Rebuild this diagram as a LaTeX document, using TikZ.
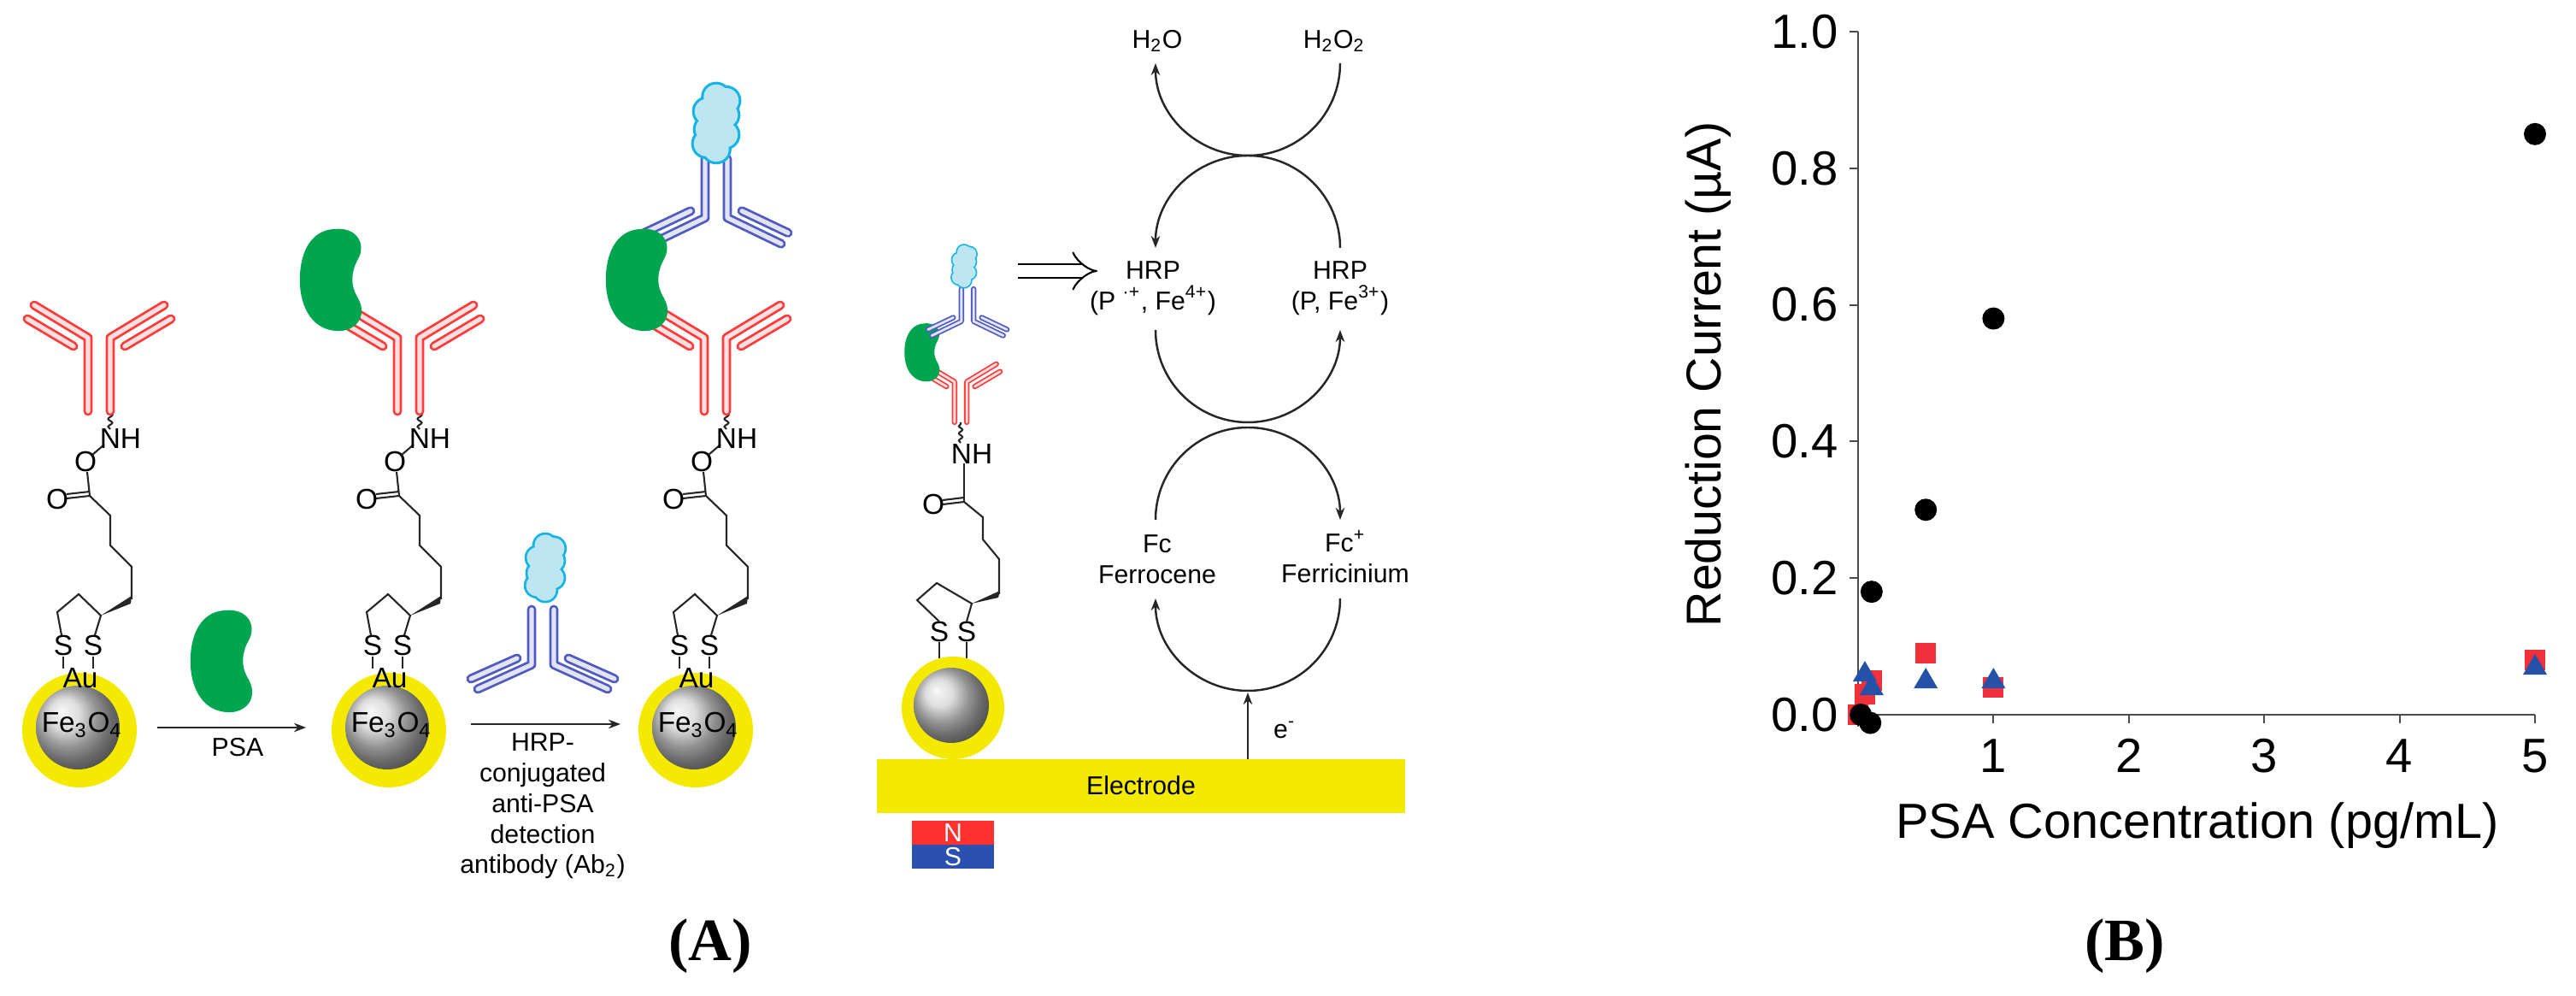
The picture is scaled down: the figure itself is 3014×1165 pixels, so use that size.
\documentclass[tikz,border=0pt]{standalone}
\usepackage{fontspec}
\setmainfont{Liberation Sans}
\newfontfamily\serifb{Liberation Serif}
\usetikzlibrary{arrows.meta,decorations.pathmorphing}
\definecolor{gold}{HTML}{F4EA00}
\definecolor{abred}{HTML}{FF3B3B}
\definecolor{abredl}{HTML}{FFE0E0}
\definecolor{abblue}{HTML}{4F5BC0}
\definecolor{abbluel}{HTML}{E2E4F6}
\definecolor{psa}{HTML}{00A64F}
\definecolor{cloudo}{HTML}{14B4E4}
\definecolor{cloudf}{HTML}{BEE6F2}
\definecolor{mred}{HTML}{F0303A}
\definecolor{mblue}{HTML}{2352A8}
\definecolor{nred}{HTML}{FF3030}
\definecolor{sblue}{HTML}{2A50B0}
\tikzset{
  tubeo/.style={line width=3.1pt,line cap=round,line join=round},
  tubei/.style={line width=1.5pt,line cap=round,line join=round},
  bond/.style={line width=0.6pt,black!85},
  lbl/.style={font=\fontsize{8.6}{10.2}\selectfont,inner sep=0pt},
  chem/.style={font=\fontsize{9.5}{10}\selectfont,inner sep=0pt},
  cyc/.style={line width=0.7pt,black!85},
  tip/.style={-{Stealth[length=4pt,width=3pt]}},
  tick/.style={font=\fontsize{16}{18}\selectfont,inner sep=0pt},
  axl/.style={line width=0.6pt,black!70},
}
\newcommand\antibody[3]{%
\begin{scope}[#1]
 \foreach \s in {1,-1}{
  \draw[tubeo,#2] (13*\s,0) -- (13*\s,-86) -- (76*\s,-124);
  \draw[tubeo,#2] (30*\s,-76) -- (84*\s,-108);}
 \foreach \s in {1,-1}{
  \draw[tubei,#3] (13*\s,0) -- (13*\s,-86) -- (76*\s,-124);
  \draw[tubei,#3] (30*\s,-76) -- (84*\s,-108);}
\end{scope}}
\newcommand\bean[1]{%
\fill[psa,#1] (2,-59) .. controls (28,-62) and (40,-42) .. (30,-24) .. controls (22,-10) and (20,6) .. (30,22) .. controls (42,44) and (26,62) .. (4,60) .. controls (-26,58) and (-40,28) .. (-38,-6) .. controls (-36,-40) and (-20,-58) .. (2,-59) -- cycle;}
\newcommand\cloud[1]{%
\begin{scope}[#1]
 \foreach \p in {(0,-30),(-10,-14),(10,-10),(-9,6),(10,12),(0,28),(-11,22),(11,-26)}
   \fill[cloudo] \p circle (17);
 \foreach \p in {(0,-30),(-10,-14),(10,-10),(-9,6),(10,12),(0,28),(-11,22),(11,-26)}
   \fill[cloudf] \p circle (14);
\end{scope}}
\newcommand\particle[2]{%
\begin{scope}[shift={#1}]
 \fill[gold] (0,0) circle (67);
 \shade[ball color=gray!35] (-2,-3) circle (49);
 \node[chem,font=\fontsize{9.5}{10}\selectfont] at (3,-6) {Fe\textsubscript{3}O\textsubscript{4}};
 \node[chem] at (1,-61) {Au};
 \node[chem] at (-19,-99) {S};
 \node[chem] at (16,-99) {S};
 \draw[bond] (-19,-86) -- (-19,-72) (16,-86) -- (16,-72);
 \draw[bond] (-21,-111) -- (-26,-138) -- (-1,-159) -- (25,-134) -- (18,-111);
 \fill[black!85] (25,-134) -- (61,-157) -- (60,-148) -- cycle;
 \draw[bond] (61,-153) -- (61,-191) -- (36,-216) -- (36,-251) -- (12,-274);
 \draw[bond] (12,-274) -- (-15,-271) (12,-279) -- (-15,-276);
 \node[chem] at (-26,-270) {O};
 \draw[bond] (12,-274) -- (9,-302);
 \node[chem] at (7,-314) {O};
 \draw[bond] (15,-322) -- (29,-334);
 \node[chem] at (48,-341) {NH};
 \draw[bond,decorate,decoration={snake,amplitude=0.7pt,segment length=2.6pt}] (36,-352) -- (36,-373);
 #2
\end{scope}}
\begin{document}
\begin{tikzpicture}[x=0.01cm,y=-0.01cm]
\useasboundingbox (0,0) rectangle (3014,1165);
% ---------- panel A ----------
\particle{(93,854)}{\antibody{shift={(23,-373)}}{abred}{abredl}}
\particle{(455,854)}{\antibody{shift={(23,-373)}}{abred}{abredl}\bean{shift={(-66,-527)}}}
\particle{(814,854)}{\antibody{shift={(24,-668)},yscale=-0.8}{abblue}{abbluel}\antibody{shift={(23,-373)}}{abred}{abredl}\bean{shift={(-67,-527)}}\cloud{shift={(24,-709)},scale=1.05}}
% free PSA and Ab2
\bean{shift={(261,773)}}
\antibody{shift={(635,713)},yscale=-0.75}{abblue}{abbluel}
\cloud{shift={(638,665)},scale=0.9}
% reaction arrows
\coordinate (a1s) at (184,851); \coordinate (a1e) at (358,851);
\coordinate (a2s) at (551,847); \coordinate (a2e) at (726,847);
\draw[bond,tip] (a1s) -- (a1e);
\draw[bond,tip] (a2s) -- (a2e);
\node[lbl] (psa) at (278,874) {PSA};
\node[lbl,align=center,anchor=north] (ab2) at (635,857) {HRP-\\conjugated\\anti-PSA\\detection\\antibody (Ab\textsubscript{2})};
% particle on electrode
\fill[gold] (1026,888) rectangle (1644,951);
\node[lbl] (el) at (1335,919) {Electrode};
\fill[nred] (1067,960) rectangle (1163,988);
\fill[sblue] (1067,988) rectangle (1163,1016);
\node[lbl,white] at (1115,974) {N};
\node[lbl,white] at (1115,1002) {S};
\begin{scope}[shift={(1115,828)}]
 \fill[gold] (0,0) circle (60);
 \shade[ball color=gray!35] (-2,-3) circle (44);
 \node[chem] at (-16,-89) {S};
 \node[chem] at (16,-89) {S};
 \draw[bond] (-16,-77) -- (-16,-58) (16,-77) -- (16,-58);
 \draw[bond] (-16,-101) -- (-42,-126) -- (-19,-146) -- (22,-122) -- (16,-101);
 \fill[black!85] (22,-122) -- (55,-137) -- (53,-129) -- cycle;
 \draw[bond] (54,-133) -- (54,-174) -- (35,-197) -- (35,-223) -- (13,-241);
 \draw[bond] (13,-241) -- (-12,-238) (13,-246) -- (-12,-243);
 \node[chem] at (-23,-238) {O};
 \draw[bond] (13,-241) -- (13,-286);
 \node[chem] at (22,-297) {NH};
 \draw[bond,decorate,decoration={snake,amplitude=0.6pt,segment length=2.4pt}] (9,-310) -- (9,-334);
 \antibody{shift={(9,-334)},scale=0.55,tubeo/.append style={line width=1.8pt},tubei/.append style={line width=0.8pt}}{abred}{abredl}
 \bean{shift={(-35,-416)},scale=0.57}
 \antibody{shift={(17,-490)},xscale=0.55,yscale=-0.44,tubeo/.append style={line width=1.8pt},tubei/.append style={line width=0.8pt}}{abblue}{abbluel}
 \cloud{shift={(13,-516)},scale=0.57}
\end{scope}
\coordinate (ha) at (1191,317); \coordinate (hb) at (1284,317);
\draw[line width=0.6pt,double=white,double distance=4pt,-{Implies}] (ha) -- (hb);
% cycle
\node[lbl] (h2o) at (1354,48) {H\textsubscript{2}O};
\node[lbl] (h2o2) at (1561,48) {H\textsubscript{2}O\textsubscript{2}};
\node[lbl,align=center] (hrp1) at (1349,337) {HRP\\(P \textsuperscript{·+}, Fe\textsuperscript{4+})};
\node[lbl,align=center] (hrp2) at (1568,337) {HRP\\(P, Fe\textsuperscript{3+})};
\node[lbl,align=center] (fc) at (1354,654) {Fc\\Ferrocene};
\node[lbl,align=center] (fcp) at (1574,651) {Fc\textsuperscript{+}\\Ferricinium};
\draw[cyc,tip] (1568,74) arc[start angle=0,end angle=180,radius=108];
\draw[cyc,tip] (1568,290) arc[start angle=0,end angle=-180,radius=108];
\draw[cyc,tip] (1352,386) arc[start angle=180,end angle=0,radius=108];
\draw[cyc,tip] (1352,608) arc[start angle=180,end angle=360,radius=108];
\draw[cyc,tip] (1568,700) arc[start angle=0,end angle=180,radius=108];
\coordinate (e1) at (1460,888); \coordinate (e2) at (1460,810);
\draw[cyc,tip] (e1) -- (e2);
\node[lbl] (em) at (1503,854) {e\textsuperscript{-}};
\node[font=\serifb\bfseries\fontsize{20}{22}\selectfont] (A) at (831,1107) {(A)};
% ---------- panel B ----------
\draw[axl] (2174,37) -- (2174,850);
\draw[axl] (2174,836) -- (2966,836);
\foreach \v/\t in {0/0.0,0.2/0.2,0.4/0.4,0.6/0.6,0.8/0.8,1.0/1.0}{
  \draw[axl] (2164,{836-799*\v}) -- (2174,{836-799*\v});
  \node[tick,anchor=east] at (2151,{836-799*\v}) {\t};}
\foreach \v in {1,...,5}{
  \draw[axl] ({2174+158.4*\v},836) -- ({2174+158.4*\v},846);
  \node[tick] at ({2174+158.4*\v},884) {\v};}
\node[font=\fontsize{16.4}{18}\selectfont] (xt) at (2571,966) {PSA Concentration (pg/mL)};
\node[font=\fontsize{16.3}{18}\selectfont,rotate=90] (yt) at (1999,438) {Reduction Current (µA)};
\foreach \a/\b in {0/0,0.05/0.03,0.1/0.05,0.5/0.09,1/0.04,5/0.08}
  \fill[mred] ({2174+158.4*\a},{836-799*\b}) ++(-12,-12) rectangle ++(24,24);
\foreach \a/\b in {0.05/0.06,0.1/0.04,0.5/0.05,1/0.05,5/0.07}
  \fill[mblue] ({2174+158.4*\a},{836-799*\b}) ++(0,-15) -- ++(14,24) -- ++(-28,0) -- cycle;
\foreach \a/\b in {0.02/0.0,0.09/-0.012,0.1/0.18,0.5/0.30,1/0.58,5/0.85}
  \fill[black] ({2174+158.4*\a},{836-799*\b}) circle (13);
\node[font=\serifb\bfseries\fontsize{20}{22}\selectfont] (B) at (2486,1107) {(B)};
\end{tikzpicture}
\end{document}
